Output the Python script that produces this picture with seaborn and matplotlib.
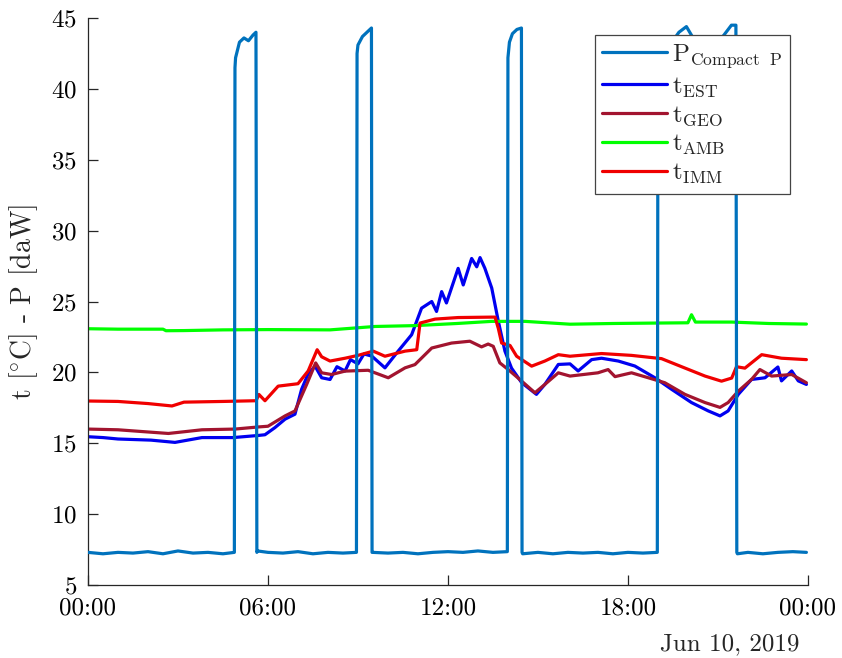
import numpy as np
import pandas as pd
import matplotlib
matplotlib.use("Agg")
import matplotlib.pyplot as plt
import seaborn as sns

# hours since 00:00, Jun 10 2019
# power of the compact unit [daW]
h_P = [0.0, 0.5, 1.0, 1.5, 2.0, 2.5, 3.0, 3.5, 4.0, 4.5, 4.88,
       4.9, 4.92, 5.05, 5.2, 5.35, 5.5, 5.6, 5.63,
       5.65, 6.0, 6.5, 7.0, 7.5, 8.0, 8.5, 8.95,
       8.97, 9.0, 9.15, 9.3, 9.45, 9.47,
       9.49, 10.0, 10.5, 11.0, 11.5, 12.0, 12.5, 13.0, 13.5, 13.98,
       14.0, 14.05, 14.15, 14.3, 14.45, 14.47,
       14.49, 15.0, 15.5, 16.0, 16.5, 17.0, 17.5, 18.0, 18.5, 18.98,
       19.0, 19.02, 19.3, 19.7, 19.95, 20.2, 20.8, 21.2, 21.45, 21.6, 21.63,
       21.65, 22.0, 22.5, 23.0, 23.5, 23.95]
P_compact = [7.3, 7.2, 7.3, 7.25, 7.35, 7.2, 7.4, 7.25, 7.3, 7.2, 7.3,
             41.5, 42.2, 43.3, 43.6, 43.4, 43.8, 44.0, 7.3,
             7.4, 7.3, 7.25, 7.35, 7.2, 7.3, 7.25, 7.3,
             42.5, 43.1, 43.7, 44.0, 44.3, 7.3,
             7.3, 7.25, 7.3, 7.2, 7.3, 7.35, 7.3, 7.4, 7.3, 7.35,
             42.2, 43.3, 43.9, 44.2, 44.3, 7.3,
             7.2, 7.3, 7.2, 7.3, 7.25, 7.3, 7.2, 7.3, 7.25, 7.3,
             40.0, 41.5, 42.8, 44.0, 44.4, 43.5, 42.8, 43.8, 44.5, 44.5, 7.3,
             7.2, 7.3, 7.2, 7.3, 7.35, 7.3]

# temperatures [°C]
h_EST = [0.0, 0.5, 1.0, 2.1, 2.9, 3.8, 4.84, 5.68, 5.9, 6.23, 6.57, 6.9,
         7.12, 7.34, 7.57, 7.79, 8.07, 8.3, 8.57, 8.75, 9.0, 9.2, 9.46, 9.9,
         10.34, 10.79, 11.12, 11.46, 11.62, 11.79, 11.95, 12.34, 12.51,
         12.79, 12.96, 13.07, 13.23, 13.46, 13.68, 13.9, 14.12, 14.46,
         14.95, 15.23, 15.68, 16.07, 16.34, 16.79, 17.12, 17.68, 18.23,
         18.9, 19.46, 20.12, 20.68, 21.07, 21.34, 21.68, 22.12, 22.57, 23.0,
         23.12, 23.46, 23.68, 23.95]
t_EST = [15.46, 15.4, 15.3, 15.22, 15.06, 15.4, 15.4, 15.55, 15.6, 16.1,
         16.7, 17.05, 18.8, 19.9, 20.44, 19.62, 19.5, 20.4, 20.1, 20.9,
         20.6, 21.3, 21.15, 20.32, 21.5, 22.66, 24.53, 25.0, 24.3, 25.7,
         24.9, 27.34, 26.17, 28.04, 27.45, 28.1, 27.35, 25.95, 23.6, 21.5,
         20.3, 19.27, 18.45, 19.15, 20.56, 20.6, 20.1, 20.9, 21.0, 20.8,
         20.45, 19.62, 18.8, 17.87, 17.28, 16.93, 17.28, 18.45, 19.5, 19.62,
         20.38, 19.4, 20.1, 19.4, 19.15]

h_GEO = [0.0, 1.0, 2.68, 3.8, 4.9, 5.68, 6.0, 6.57, 6.9, 7.29, 7.59, 7.79,
         8.12, 8.57, 9.34, 10.01, 10.57, 10.9, 11.46, 12.12, 12.73, 13.12,
         13.34, 13.51, 13.73, 14.01, 14.46, 14.9, 15.23, 15.68, 16.07, 17.0,
         17.34, 17.57, 18.12, 18.68, 19.23, 19.9, 20.57, 21.07, 21.34, 21.68,
         22.12, 22.4, 22.79, 23.46, 23.95]
t_GEO = [16.0, 15.95, 15.69, 15.95, 16.0, 16.15, 16.2, 16.93, 17.28, 19.15,
         20.67, 19.97, 19.85, 20.09, 20.15, 19.62, 20.32, 20.55, 21.72, 22.07,
         22.2, 21.8, 22.0, 21.84, 20.67, 20.2, 19.38, 18.56, 19.15, 19.97,
         19.74, 19.97, 20.2, 19.7, 19.97, 19.62, 19.27, 18.45, 17.87, 17.53,
         17.87, 18.68, 19.5, 20.2, 19.74, 19.85, 19.27]

h_AMB = [0.0, 1.0, 2.5, 2.6, 3.2, 4.5, 6.0, 8.07, 9.57, 10.9, 12.3, 13.46,
         14.57, 16.07, 17.5, 18.9, 20.0, 20.12, 20.25, 21.46, 22.7, 23.95]
t_AMB = [23.08, 23.05, 23.05, 22.94, 22.95, 23.0, 23.02, 23.0, 23.24, 23.3,
         23.45, 23.6, 23.6, 23.4, 23.45, 23.48, 23.5, 24.07, 23.55, 23.55,
         23.45, 23.41]

h_IMM = [0.0, 1.0, 2.0, 2.8, 3.2, 4.5, 5.6, 5.7, 5.9, 6.34, 7.0, 7.34, 7.64,
         7.79, 8.07, 8.57, 9.0, 9.51, 9.9, 10.57, 10.96, 11.07, 11.57, 12.34,
         13.46, 13.57, 13.68, 13.79, 14.07, 14.29, 14.79, 15.23, 15.68, 16.07,
         17.12, 18.12, 19.12, 19.79, 20.57, 21.12, 21.46, 21.62, 21.9, 22.46,
         23.12, 23.95]
t_IMM = [17.98, 17.95, 17.8, 17.63, 17.9, 17.95, 18.0, 18.44, 18.0, 19.03,
         19.2, 20.1, 21.6, 21.1, 20.8, 21.0, 21.2, 21.5, 21.14, 21.5, 21.6,
         23.48, 23.76, 23.87, 23.9, 23.9, 23.1, 22.07, 21.9, 21.14, 20.44,
         20.8, 21.25, 21.14, 21.33, 21.2, 20.97, 20.4, 19.74, 19.38, 19.6,
         20.4, 20.3, 21.25, 21.0, 20.9]

xtick_pos = [0, 6, 12, 18, 24]
xtick_labels = ["00:00", "06:00", "12:00", "18:00", "00:00"]
ytick_pos = [5, 10, 15, 20, 25, 30, 35, 40, 45]

sns.set_style("ticks")
plt.rcParams["font.family"] = "serif"
plt.rcParams["font.serif"] = ["cmr10", "DejaVu Serif"]
plt.rcParams["mathtext.fontset"] = "cm"
plt.rcParams["axes.formatter.use_mathtext"] = True

fig = plt.figure(figsize=(8.42, 6.58), dpi=100)
ax = fig.add_axes([0.1045, 0.111, 0.855, 0.8615])

lw = 2.3
series = [
    (h_EST, t_EST, "#0000F0", r"$\mathrm{t}_{\mathrm{EST}}$"),
    (h_GEO, t_GEO, "#A2142F", r"$\mathrm{t}_{\mathrm{GEO}}$"),
    (h_AMB, t_AMB, "#00FF00", r"$\mathrm{t}_{\mathrm{AMB}}$"),
    (h_IMM, t_IMM, "#F00000", r"$\mathrm{t}_{\mathrm{IMM}}$"),
]
for hx, vy, c, lab in series:
    sns.lineplot(x=hx, y=vy, color=c, lw=lw, ax=ax, sort=False,
                 estimator=None, label=lab, zorder=2)
sns.lineplot(x=h_P, y=P_compact, color="#0072BD", lw=lw, ax=ax, sort=False,
             estimator=None, label=r"$\mathrm{P}_{\mathrm{Compact\ \ P}}$",
             zorder=3)

handles, labels = ax.get_legend_handles_labels()
order = [4, 0, 1, 2, 3]
leg = ax.legend([handles[i] for i in order], [labels[i] for i in order],
                loc="upper right", bbox_to_anchor=(790 / 842, 1 - 35 / 658),
                bbox_transform=fig.transFigure,
                fontsize=18, frameon=True, fancybox=False, framealpha=1,
                edgecolor="#444444", handlelength=2.6, labelspacing=0.2,
                borderpad=0.3, handletextpad=0.2, borderaxespad=0)
leg.get_frame().set_linewidth(0.9)
leg.set_zorder(5)

ax.set_xlim(0, 24)
ax.set_ylim(5, 45)
ax.set_xticks(xtick_pos)
ax.set_xticklabels(xtick_labels)
ax.set_yticks(ytick_pos)
ax.tick_params(direction="in", length=7, width=0.9, colors="#262626",
               labelsize=18, labelcolor="black")
ax.tick_params(axis="x", pad=9)
ax.tick_params(axis="y", pad=8)
for s in ["top", "right"]:
    ax.spines[s].set_visible(False)
for s in ["left", "bottom"]:
    ax.spines[s].set_color("#262626")
    ax.spines[s].set_linewidth(0.9)

ax.set_xlabel("")
ax.set_ylabel(r"t [$^{\circ}$C] - P [daW]", fontsize=20, labelpad=8)
fig.text(0.95, 1 - 644 / 658, "Jun 10, 2019", ha="right", va="center",
         fontsize=18)

fig.savefig("out.png", dpi=100)
